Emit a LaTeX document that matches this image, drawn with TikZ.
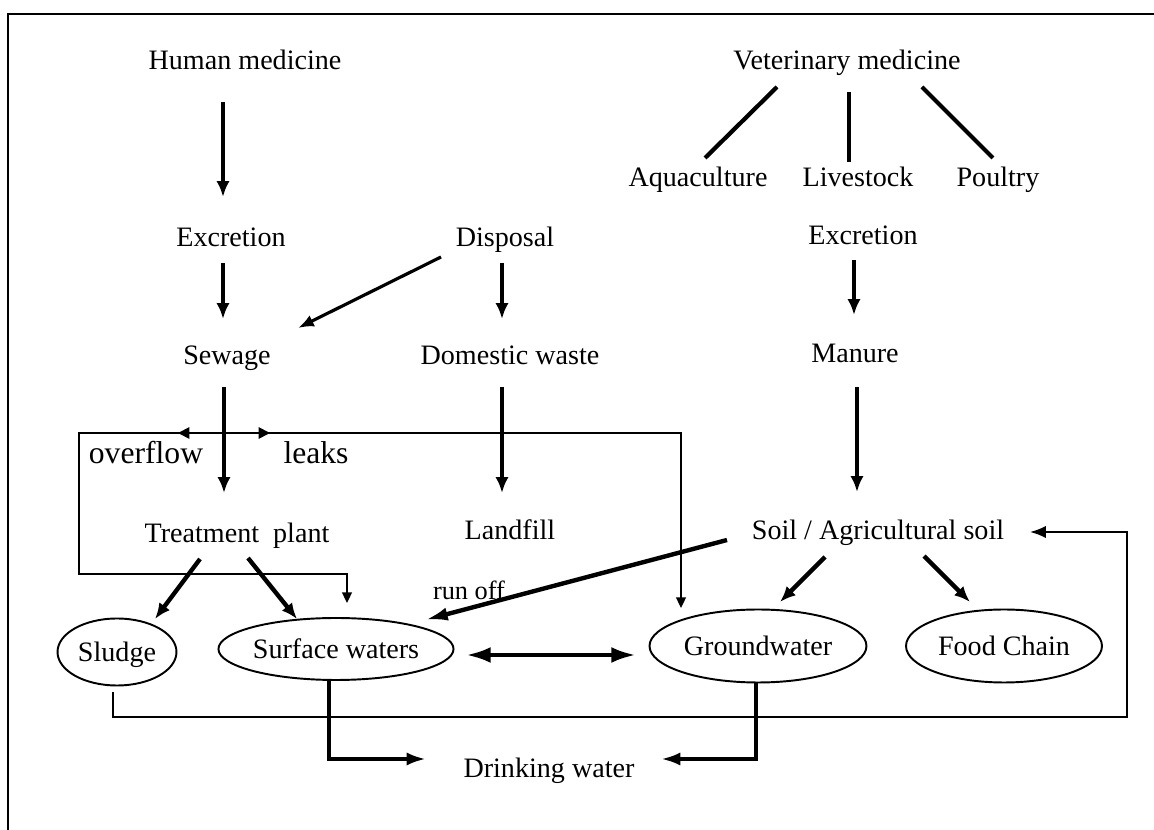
\documentclass[tikz,border=0pt]{standalone}
\usepackage{fontspec}
\setmainfont{Liberation Serif}
\usetikzlibrary{arrows.meta,shapes.geometric,decorations.markings}

\begin{document}
\begin{tikzpicture}[x=0.02cm, y=-0.02cm,
    lbl/.style = {font=\fontsize{16}{19}\selectfont, inner sep=0pt, text height=11pt, text depth=0pt},
    bigl/.style = {lbl, font=\fontsize{18}{21}\selectfont, text height=12.4pt},
    ell/.style = {draw, ellipse, line width=1.1pt, inner sep=0pt, text height=11pt, text depth=0pt, font=\fontsize{16}{19}\selectfont},
    flow/.style = {line width=2.5pt, -{Latex[length=9pt,width=7.5pt]}},
    side/.style = {line width=1.8pt, -{Latex[length=9pt,width=7pt]}},
    twig/.style = {line width=2.4pt},
    pipe/.style = {line width=1.1pt},
    midarr/.style = {postaction={decorate},
        decoration={markings, mark=at position #1 with {\arrow{Triangle[length=6.5pt,width=6.5pt]}}}},
]
    \useasboundingbox (0,0) rectangle (1154,830);
    \draw [line width=1.1pt] (8,830) -- (8,14) -- (1154,14);

    % human side
    \node [lbl] (hummed) at (245,60) {Human medicine};
    \node [lbl] (excrL) at (231,237) {Excretion};
    \node [lbl] (disp) at (505,237) {Disposal};
    \node [lbl] (sewage) at (227,355) {Sewage};
    \node [lbl] (domw) at (510,355) {Domestic waste};
    \node [bigl] (ovfl) at (146,453) {overflow};
    \node [bigl] (leaks) at (316,453) {leaks};
    \node [lbl] (treat) at (237,533) {Treatment\ \ plant};
    \node [lbl] (landf) at (510,530) {Landfill};

    % veterinary side
    \node [lbl] (vetmed) at (847,60) {Veterinary medicine};
    \node [lbl] (aqua) at (698,177) {Aquaculture};
    \node [lbl] (live) at (858,177) {Livestock};
    \node [lbl] (poul) at (998,177) {Poultry};
    \node [lbl] (excrR) at (863,235) {Excretion};
    \node [lbl] (manure) at (855,353) {Manure};
    \node [lbl] (soil) at (878,530) {Soil / Agricultural soil};
    \node [lbl, font=\fontsize{15}{18}\selectfont] (runoff) at (469,590) {run off};

    % waters
    \node [ell, minimum width=2.38cm, minimum height=1.34cm] (sludge) at (117,652) {Sludge};
    \node [ell, minimum width=4.42cm, minimum height=1.24cm] (surf) at (336,649) {Surface waters};
    \node [ell, minimum width=4.34cm, minimum height=1.46cm] (ground) at (758,646) {Groundwater};
    \node [ell, minimum width=3.92cm, minimum height=1.46cm] (food) at (1004,646) {Food Chain};
    \node [lbl] (drink) at (549,768) {Drinking water};

    \coordinate (split) at (224,433);
    \coordinate (ovL) at (79,433);
    \coordinate (ovB) at (79,574);
    \coordinate (fbR) at (1127,717);

    \draw [flow, line width=2.2pt] ([shift={(-22,42)}]hummed.center) -- ([shift={(-8,-40)}]excrL.center);
    \draw [flow] ([shift={(-8,26)}]excrL.center) -- ([shift={(-4,-36)}]sewage.center);
    \draw [flow] ([shift={(-3,32)}]sewage.center) -- ([shift={(-13,-40)}]treat.center);
    \draw [flow] ([shift={(-3,26)}]disp.center) -- ([shift={(-8,-36)}]domw.center);
    \draw [flow] ([shift={(-8,32)}]domw.center) -- ([shift={(-8,-37)}]landf.center);
    \draw [side] ([shift={(-64,20)}]disp.center) -- ([shift={(71,-27)}]sewage.center);

    \draw [twig] ([shift={(-70,27)}]vetmed.center) -- ([shift={(7,-19)}]aqua.center);
    \draw [twig] ([shift={(2,32)}]vetmed.center) -- ([shift={(-9,-15)}]live.center);
    \draw [twig] ([shift={(75,27)}]vetmed.center) -- ([shift={(-5,-19)}]poul.center);
    \draw [flow] ([shift={(-9,25)}]excrR.center) -- ([shift={(-1,-38)}]manure.center);
    \draw [flow] ([shift={(2,34)}]manure.center) -- ([shift={(-21,-38)}]soil.center);

    \draw [flow, -{Latex[length=13pt,width=7.5pt]}]
        ([shift={(-151,10)}]soil.center) -- ([shift={(89,-29)}]surf.center);
    \draw [flow] ([shift={(-53,27)}]soil.center) -- ([shift={(22,-44)}]ground.center);
    \draw [flow] ([shift={(46,26)}]soil.center) -- ([shift={(-34,-44)}]food.center);
    \draw [flow] ([shift={(-37,26)}]treat.center) -- ([shift={(38,-33)}]sludge.center);
    \draw [flow] ([shift={(11,25)}]treat.center) -- ([shift={(-39,-30)}]surf.center);

    \draw [flow, {Latex[length=14pt,width=9pt]}-{Latex[length=14pt,width=9pt]}]
        ([shift={(130,6)}]surf.center) -- ([shift={(-122,9)}]ground.center);
    \draw [flow, line width=2.4pt, -{Latex[length=11pt,width=7.5pt]}]
        ([shift={(-7,31)}]surf.center) |- ([shift={(-123,-9)}]drink.center);
    \draw [flow, line width=2.4pt, -{Latex[length=11pt,width=7.5pt]}]
        ([shift={(-2,37)}]ground.center) |- ([shift={(112,-9)}]drink.center);

    % overflow and leaks
    \draw [pipe, -{Triangle[length=6pt,width=5.5pt]}, midarr=0.92cm]
        (split) -- (ovL) -- (ovB) -| ([shift={(11,-46)}]surf.center);
    \draw [pipe, -{Triangle[length=6pt,width=5.5pt]}, midarr=0.92cm]
        (split) -| ([shift={(-77,-38)}]ground.center);
    \draw [pipe, -{Latex[length=9pt,width=7pt]}]
        ([shift={(-4,40)}]sludge.center) |- (fbR) |- ([shift={(152,2)}]soil.center);
\end{tikzpicture}
\end{document}
